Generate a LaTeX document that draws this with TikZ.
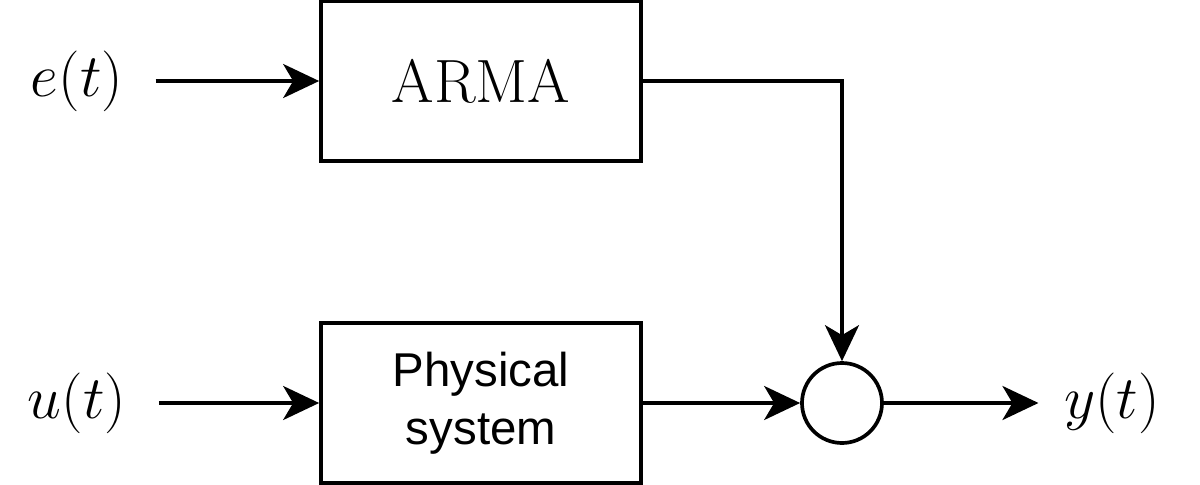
\documentclass[tikz,border=0pt]{standalone}
\usepackage{fontspec}
\newfontfamily\arialfont{Liberation Sans}
\usetikzlibrary{arrows.meta,positioning}

\begin{document}
\begin{tikzpicture}[x=1cm,y=1cm,
    block/.style={draw,line width=1.05pt,minimum width=3.2cm,minimum height=1.6cm,inner sep=0pt},
    sumnode/.style={draw,circle,line width=1.05pt,minimum size=0.8cm,inner sep=0pt},
    sig/.style={inner sep=0pt,font=\fontsize{17.4}{20}\selectfont},
    flow/.style={line width=1.05pt,-{Stealth[length=3.6mm,width=3.4mm,inset=1mm]}}]
  \useasboundingbox (0,0) rectangle (12,4.84);
  % blocks
  \node[block,font=\fontsize{17.4}{20}\selectfont] (arma) at (4.81,4.03) {ARMA};
  \node[block,align=center,font=\arialfont\fontsize{13.5}{16.5}\selectfont] (plant) at (4.81,0.81) {Physical\\system};
  \node[sumnode] (sum) at (8.42,0.81) {};
  % signals
  \node[sig] (e) at (0.77,4.03) {$e(t)$};
  \node[sig] (u) at (0.77,0.81) {$u(t)$};
  \node[sig] (y) at (11.12,0.81) {$y(t)$};
  \draw[flow,shorten <=3.2mm] (e.east|-arma) -- (arma.west);
  \draw[flow,shorten <=3.2mm] (u.east|-plant.west) -- (plant.west);
  \draw[flow] (plant.east) -- (sum.west);
  \draw[flow] (arma.east) -| (sum.north);
  \draw[flow,shorten >=2.5mm] (sum.east) -- (y.west|-sum.east);
\end{tikzpicture}
\end{document}
